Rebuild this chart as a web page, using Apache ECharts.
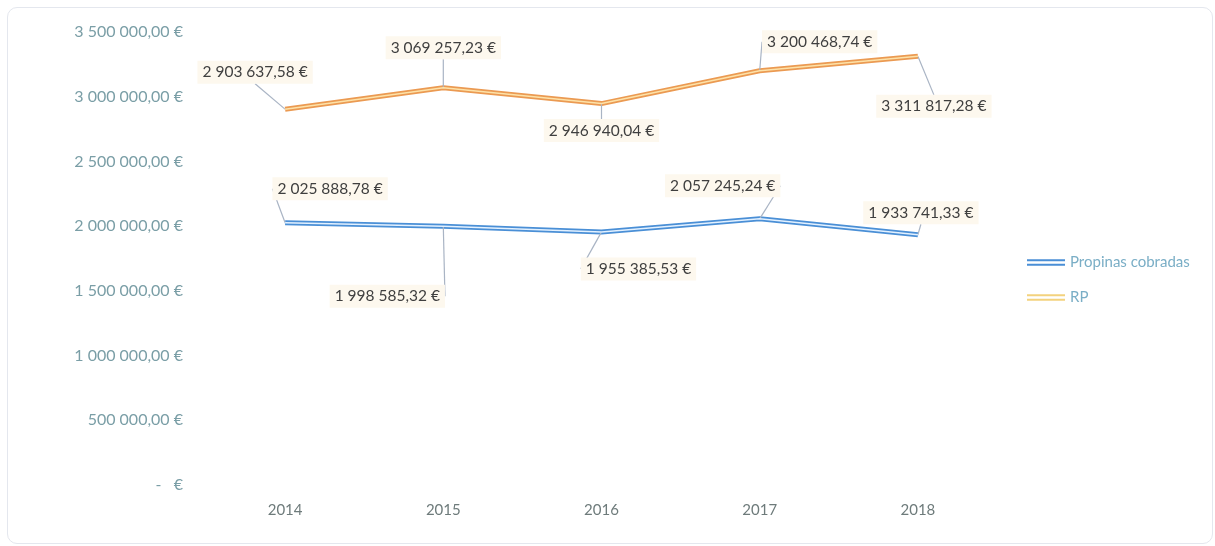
<!DOCTYPE html>
<html><head><meta charset="utf-8">
<script src="https://cdn.jsdelivr.net/npm/echarts@6/dist/echarts.min.js"></script>
<style>
html,body{margin:0;padding:0;background:#fff;}
#wrap{position:absolute;left:7px;top:7px;width:1206px;height:537px;border:1px solid #e4e7ee;border-radius:10px;box-sizing:border-box;}
#c{position:absolute;left:0;top:0;width:1215px;height:546px;}
</style></head>
<body>
<div id="wrap"></div>
<div id="c"></div>
<script>
const categories = ['2014','2015','2016','2017','2018'];
const propinas = [2025888.78, 1998585.32, 1955385.53, 2057245.24, 1933741.33];
const rp = [2903637.58, 3069257.23, 2946940.04, 3200468.74, 3311817.28];
const seriesNames = ['Propinas cobradas','RP'];
const yTicks = [0, 500000, 1000000, 1500000, 2000000, 2500000, 3000000, 3500000];

// label offsets (layout only)
const propOff = [[45,-34],[-56,70],[37,37],[-37,-33],[3,-22]];
const rpOff = [[-30,-37],[0,-40],[0,27],[60,-29],[16,50]];

function fmt(v){
  if (v === 0) return '-   €';
  const s = v.toFixed(2).split('.');
  const int = s[0].replace(/\B(?=(\d{3})+(?!\d))/g, ' ');
  return int + ',' + s[1] + ' €';
}

const chart = echarts.init(document.getElementById('c'));
const FONT = 'Lato';
function labelCfg(){
  return {show:true, position:'inside', formatter:p=>fmt(p.value), color:'#3f3f3f', fontFamily:FONT, fontSize:15.5,
    backgroundColor:'#fdf8ee', padding:[4,5,3,5]};
}
function layoutFn(offs){
  return function(p){ const o = offs[p.dataIndex]; return {dx:o[0], dy:o[1]}; };
}
const legIcon = 'path://M0,0H40V2.2H0Z M0,4.6H40V6.8H0Z';
chart.setOption({
  animation:false,
  textStyle:{fontFamily:FONT},
  grid:{left:206, right:218, top:32, bottom:61},
  legend:{
    orient:'vertical', left:1022, top:250, itemWidth:38, itemHeight:7, itemGap:20,
    textStyle:{color:'#7aaec6', fontSize:15, fontFamily:FONT},
    data:[
      {name:seriesNames[0], icon:legIcon, itemStyle:{color:'#4a8fd6'}},
      {name:seriesNames[1], icon:legIcon, itemStyle:{color:'#f3d27e'}}
    ]
  },
  xAxis:{type:'category', data:categories, boundaryGap:true,
    axisLine:{show:false}, axisTick:{show:false},
    axisLabel:{color:'#6e7b7b', fontSize:15, margin:18, fontFamily:FONT}},
  yAxis:{type:'value', min:yTicks[0], max:yTicks[yTicks.length-1], interval:yTicks[1]-yTicks[0],
    splitLine:{show:false}, axisLine:{show:false}, axisTick:{show:false},
    axisLabel:{color:'#7a9ea6', fontSize:16, margin:23, fontFamily:FONT, formatter:v=>fmt(v)}},
  series:[
    {name:seriesNames[0], type:'line', data:propinas, symbol:'circle', symbolSize:1,
      lineStyle:{color:'#4a8fd6', width:5}, itemStyle:{color:'#4a8fd6'},
      label:labelCfg(), labelLine:{show:true, lineStyle:{color:'#a9b4c4', width:1.2}},
      labelLayout:layoutFn(propOff), z:3},
    {name:seriesNames[0], type:'line', data:propinas, symbol:'none', silent:true,
      lineStyle:{color:'#e3f1ff', width:1.5}, z:4},
    {name:seriesNames[1], type:'line', data:rp, symbol:'circle', symbolSize:1,
      lineStyle:{color:'#eb9a52', width:5}, itemStyle:{color:'#eb9a52'},
      label:labelCfg(), labelLine:{show:true, lineStyle:{color:'#a9b4c4', width:1.2}},
      labelLayout:layoutFn(rpOff), z:3},
    {name:seriesNames[1], type:'line', data:rp, symbol:'none', silent:true,
      lineStyle:{color:'#fde2a8', width:1.5}, z:4}
  ]
});
</script>
</body></html>
